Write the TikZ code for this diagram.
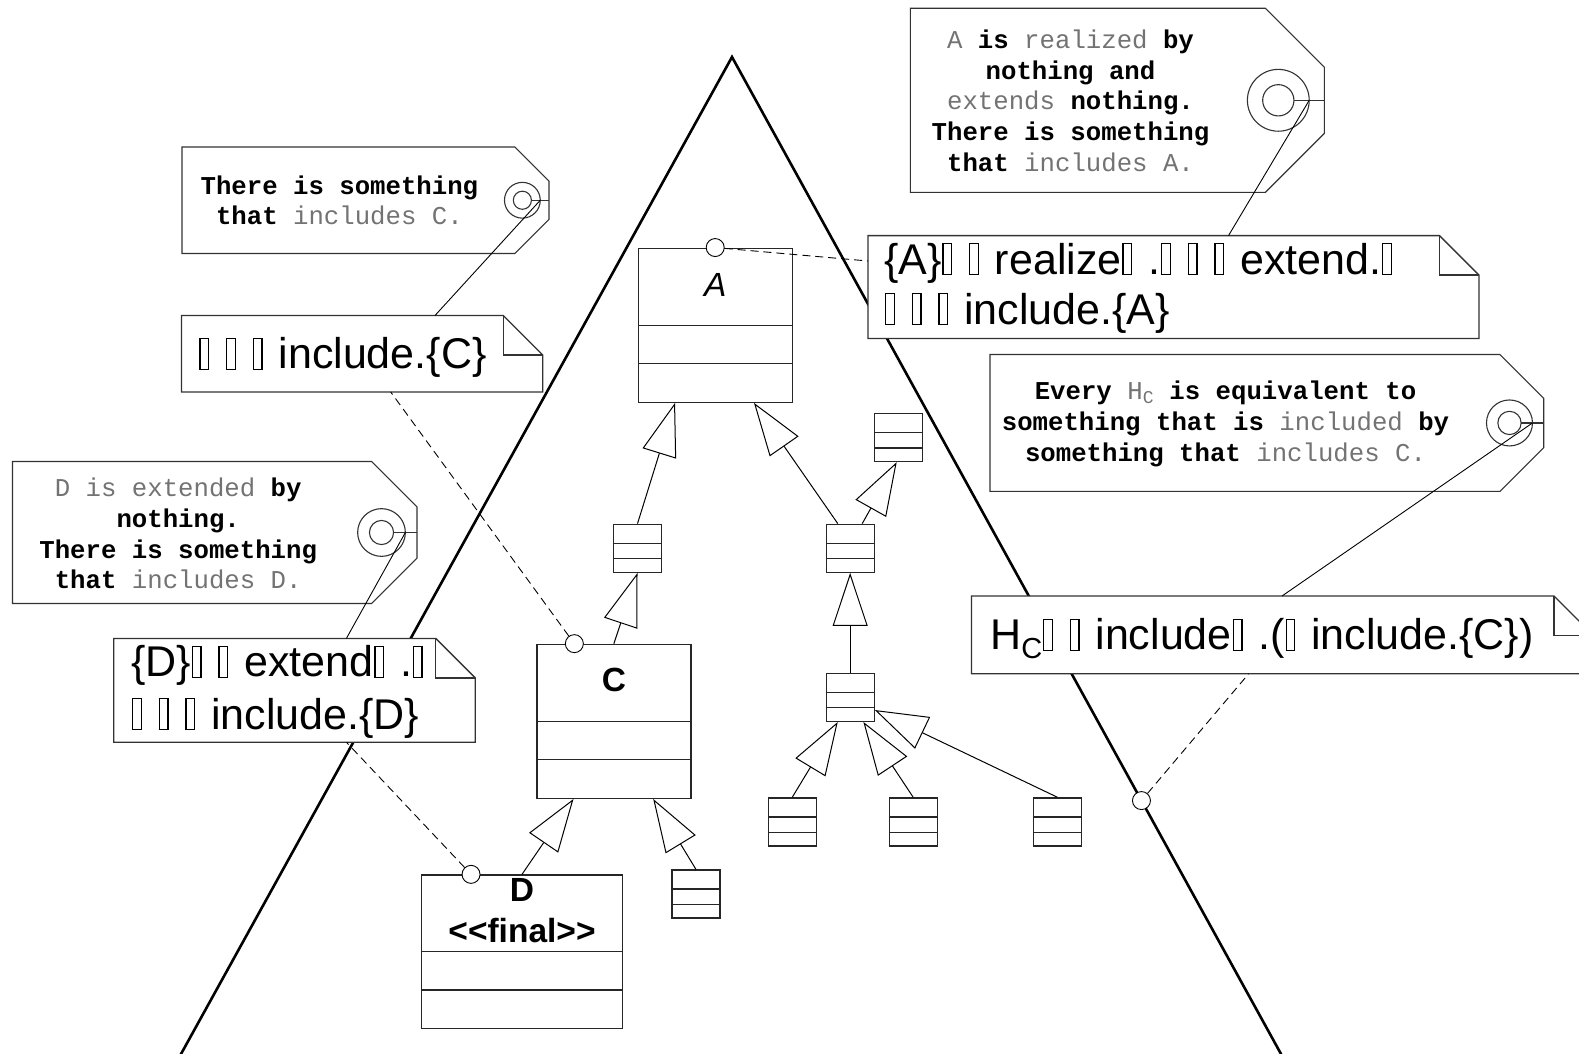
\documentclass[tikz,border=0pt]{standalone}
\usepackage{fontspec}
\setmainfont{Liberation Sans}
\newfontfamily\monofam{Liberation Mono}
\newfontfamily\sansfam{Liberation Sans}
\usetikzlibrary{arrows.meta,calc}
\definecolor{inkgray}{gray}{0.2}
\definecolor{softgray}{gray}{0.45}

% missing-glyph box as printed in the constraint notes
\newcommand\tofu{\makebox[0.62em][l]{\kern0.02em{\setlength\fboxsep{0pt}\setlength\fboxrule{1.3pt}\fbox{\rule{0pt}{\dimexpr0.72em-1.3pt\relax}\hspace*{\dimexpr0.23em-2.6pt\relax}}}}}
% light words inside the tags
\newcommand\gy[1]{\textcolor{softgray}{\mdseries #1}}

% luggage tag: #1 ring coordinate name, #2 left, #3 top, #4 right, #5 bottom
\newcommand\drawtag[5]{%
  \pgfmathsetmacro\tgh{#5-#3}%
  \pgfmathsetmacro\tgd{0.32*\tgh}%
  \pgfmathsetmacro\tgm{(#3+#5)/2}%
  \pgfmathsetmacro\tgcx{#4-0.25*\tgh}%
  \pgfmathsetmacro\tgro{0.168*\tgh}%
  \pgfmathsetmacro\tgri{0.085*\tgh}%
  \draw[tagline, fill=white] (#2,#3) -- (#4-\tgd,#3) -- (#4,#3+\tgd) -- (#4,#5-\tgd) -- (#4-\tgd,#5) -- (#2,#5) -- cycle;
  \draw[tagline] (\tgcx,\tgm) circle[radius=\tgro];
  \draw[tagline] (\tgcx,\tgm) circle[radius=\tgri];
  \draw[tagline] (\tgcx+\tgri,\tgm) -- (#4,\tgm);
  \coordinate (#1) at (\tgcx+\tgro,\tgm);
}

% note with folded corner: #1 left, #2 top, #3 right, #4 bottom
\newcommand\drawnote[4]{%
  \draw[noteline] (#1,#2) -- (#3-39.5,#2) -- (#3,#2+39.5) -- (#3,#4) -- (#1,#4) -- cycle;
  \draw[noteline, fill=none] (#3-39.5,#2) -- (#3-39.5,#2+39.5) -- (#3,#2+39.5);
}

\begin{document}
\begin{tikzpicture}[x=1pt, y=-1pt,
  bigframe/.style={draw=black, line width=2.6pt, line join=miter},
  noteline/.style={draw=inkgray, line width=1.3pt, fill=white},
  tagline/.style={draw=black!80, line width=1.1pt},
  cmp/.style 2 args={path picture={
      \draw[draw=black!85, line width=1.3pt]
        ($(path picture bounding box.north west)!#1!(path picture bounding box.south west)$) --
        ($(path picture bounding box.north east)!#1!(path picture bounding box.south east)$)
        ($(path picture bounding box.north west)!#2!(path picture bounding box.south west)$) --
        ($(path picture bounding box.north east)!#2!(path picture bounding box.south east)$);}},
  cls/.style={draw=black!85, line width=1.3pt, fill=white, inner sep=0pt,
      minimum width=154pt, minimum height=154pt, cmp={0.5}{0.75}},
  smallcls/.style={draw=black!85, line width=1.3pt, fill=white, inner sep=0pt,
      minimum width=48pt, minimum height=48pt, cmp={0.4}{0.716}},
  gen/.style={draw=black, line width=1pt, -{Triangle[open, length=53pt, width=35pt]}},
  assoc/.style={draw=black, line width=0.9pt, dash pattern=on 8pt off 5pt},
  pinring/.style={circle, draw=black, line width=0.9pt, fill=white, minimum size=18pt, inner sep=0pt},
  tagstring/.style={draw=black, line width=0.9pt},
  tagtext/.style={font=\monofam\bfseries\fontsize{25.7}{30.7}\selectfont, align=center, inner sep=0pt},
  notetext/.style={font=\sansfam\fontsize{43}{50}\selectfont, anchor=base west, inner sep=0pt},
  clsname/.style={font=\sansfam\bfseries\fontsize{33.5}{40}\selectfont, anchor=base, inner sep=0pt}
]
\useasboundingbox (0,0) rectangle (1579,1054);
\clip (0,0) rectangle (1579,1054);

% the large triangle
\coordinate (apex) at (732,57);
\coordinate (footL) at (181,1054);
\coordinate (footR) at (1281,1054);
\draw[bigframe] ($(apex)!1.02!(footL)$) -- (apex) -- ($(apex)!1.02!(footR)$);
\coordinate (hdotpos) at ($(apex)!0.7458!(footR)$);

% tags
\drawtag{ringA}{910.3}{8.3}{1324.3}{192.3}
\drawtag{ringC}{182}{147}{549}{253.5}
\drawtag{ringD}{12.5}{461.5}{417}{603.5}
\drawtag{ringH}{990}{354.5}{1543.7}{491.4}

\node[tagtext] (tagA) at (1070.5,100.7) {\gy{A} is \gy{realized} by\\nothing and\\\gy{extends} nothing.\\There is something\\that \gy{includes A.}};
\node[tagtext] (tagC) at (339.4,200.4) {There is something\\that \gy{includes C.}};
\node[tagtext] (tagD) at (178.2,533.7) {\gy{D is extended} by\\nothing.\\There is something\\that \gy{includes D.}};
\node[tagtext] (tagH) at (1225.5,424) {Every \gy{H\textsubscript{C}} is equivalent to\\something that is \gy{included} by\\something that \gy{includes C.}};

% notes
\drawnote{868}{235.6}{1479}{338.4}
\drawnote{181.5}{315.5}{542.8}{392}
\drawnote{113.8}{638.4}{475.3}{742.2}
\drawnote{971.5}{596}{1593.5}{673.7}

\node[notetext] (noteA1) at (884,274) {\{A\}\tofu\tofu realize\tofu.\tofu\tofu\tofu extend.\tofu};
\node[notetext] (noteA2) at (884,324) {\tofu\tofu\tofu include.\{A\}};
\node[notetext] (noteC1) at (198.4,368.5) {\tofu\tofu\tofu include.\{C\}};
\node[notetext] (noteD1) at (131,676.7) {\{D\}\tofu\tofu extend\tofu.\tofu};
\node[notetext] (noteD2) at (131,729) {\tofu\tofu\tofu include.\{D\}};
\node[notetext] (noteH1) at (990,649.5) {H\raisebox{-0.2em}{\fontsize{29}{29}\selectfont C}\tofu\tofu include\tofu.(\tofu include.\{C\})};

% attachment points on the note outlines
\coordinate (nAtop) at (1228.5,235.6);
\coordinate (nAleft) at (868,261);
\coordinate (nCtop) at (435,315.5);
\coordinate (nCbot) at (390.7,392);
\coordinate (nDtop) at (346.4,638.4);
\coordinate (nDbot) at (346.4,742.2);
\coordinate (nHtop) at (1282,596);
\coordinate (nHbot) at (1248.7,673.7);

% tag strings
\draw[tagstring] (ringA) -- (nAtop);
\draw[tagstring] (ringC) -- (nCtop);
\draw[tagstring] (ringD) -- (nDtop);
\draw[tagstring] (ringH) -- (nHtop);

% classes
\node[cls] (A) at (715.2,325.2) {};
\node[cls] (C) at (613.85,721.3) {};
\node[cls, minimum width=200.6pt, minimum height=153.3pt] (D) at (522,951.65) {};
\node[smallcls] (sTR) at (898.3,437.5) {};
\node[smallcls] (sM) at (850.15,548.3) {};
\node[smallcls] (sL) at (637.5,548.3) {};
\node[smallcls] (sLow) at (850.15,697.3) {};
\node[smallcls] (sB1) at (792.3,821.85) {};
\node[smallcls] (sB2) at (913.15,821.85) {};
\node[smallcls] (sB3) at (1057.3,821.85) {};
\node[smallcls] (sC) at (695.85,893.85) {};

\node[clsname, font=\sansfam\itshape\fontsize{33.5}{40}\selectfont] (Aname) at ($(A.north)+(0,48.5)$) {A};
\node[clsname] (Cname) at ($(C.north)+(0,47.5)$) {C};
\node[clsname] (Dname) at ($(D.north)+(0,26.7)$) {D};
\node[clsname] (Dstereo) at ($(D.north)+(0,68.3)$) {<{}<final>{}>};

% generalizations
\draw[gen] (sL.north) -- ($(A.south west)+(37.5,0)$);
\draw[gen] (C.north) -- (sL.south);
\draw[gen] ($(sM.north west)+(12.3,0)$) -- ($(A.south east)+(-38.9,0)$);
\draw[gen] ($(sM.north east)+(-12.6,0)$) -- ($(sTR.south)+(-1.6,0)$);
\draw[gen] (sLow.north) -- (sM.south);
\draw[gen] (sB1.north) -- ($(sLow.south)+(-12.4,0)$);
\draw[gen] (sB2.north) -- ($(sLow.south)+(13.2,0)$);
\draw[gen] (sB3.north) -- ($(sLow.east)+(0,12.7)$);
\draw[gen] (D.north) -- ($(C.south west)+(37.3,0)$);
\draw[gen] (sC.north) -- ($(C.south east)+(-38.3,0)$);

% anchors of the constraint notes
\node[pinring] (pA) at (A.north) {};
\node[pinring] (pC) at ($(C.north west)+(38.15,0)$) {};
\node[pinring] (pD) at ($(D.north west)+(50,0)$) {};
\node[pinring] (pH) at (hdotpos) {};

\draw[assoc] (pA) -- (nAleft);
\draw[assoc] (pC) -- (nCbot);
\draw[assoc] (pD) -- (nDbot);
\draw[assoc] (pH) -- (nHbot);
\end{tikzpicture}
\end{document}
